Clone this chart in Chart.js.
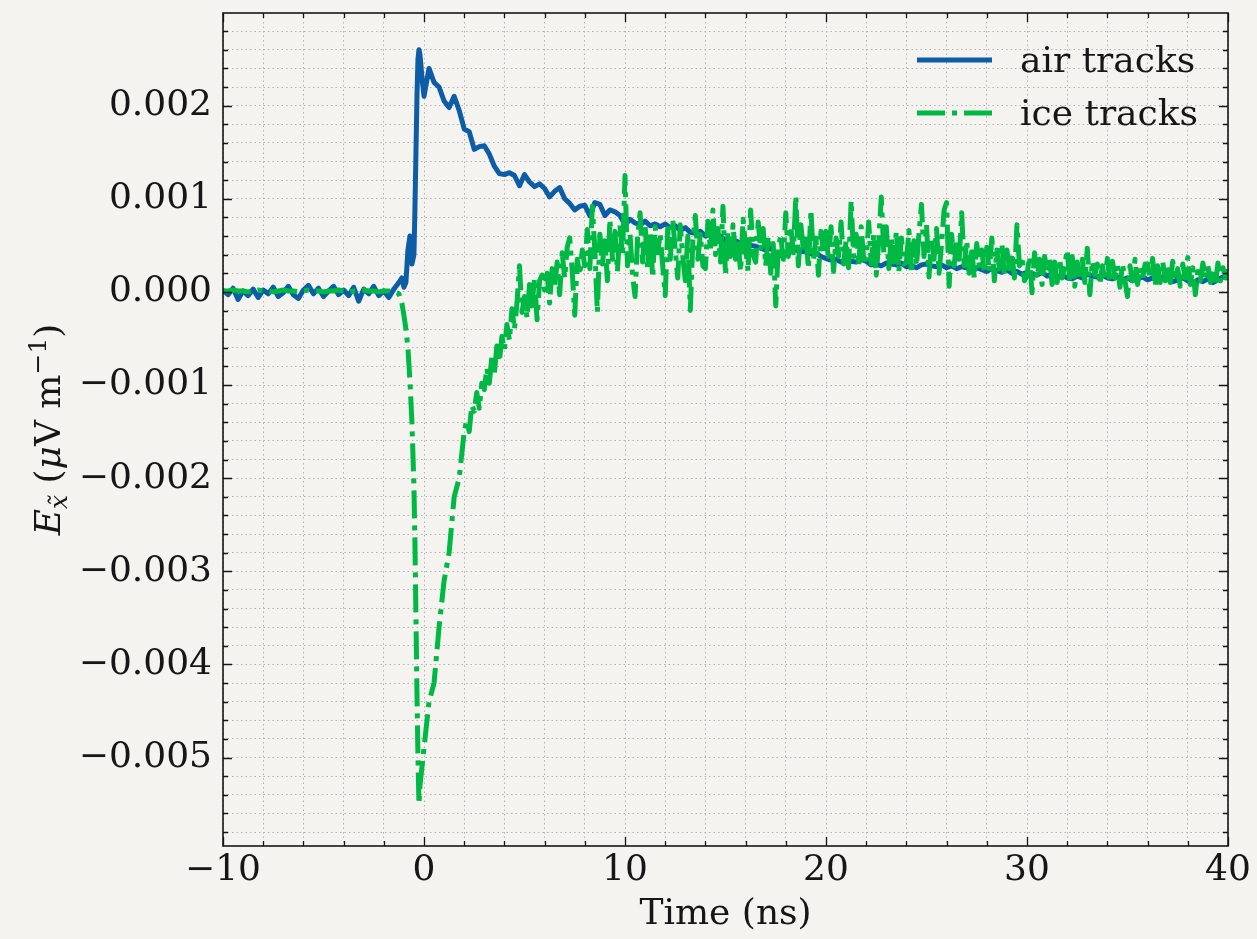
<!DOCTYPE html>
<html>
<head>
<meta charset="utf-8">
<script src="https://cdn.jsdelivr.net/npm/chart.js@4.4.1/dist/chart.umd.min.js"></script>
<style>
  html, body { margin: 0; padding: 0; background: #f4f3ef; }
  #wrap { width: 1257px; height: 939px; }
</style>
</head>
<body>
<div id="wrap"><canvas id="efield" width="1257" height="939"></canvas></div>
<script>
// time axis for the air tracks (ns)
const airTime = [
  -10, -9.75, -9.5, -9.25, -9, -8.75, -8.5, -8.25,
  -8, -7.75, -7.5, -7.25, -7, -6.75, -6.5, -6.25,
  -6, -5.75, -5.5, -5.25, -5, -4.75, -4.5, -4.25,
  -4, -3.75, -3.5, -3.25, -3, -2.75, -2.5, -2.25,
  -2, -1.75, -1.5, -1.25,
  -1.1, -1.0, -0.9, -0.8, -0.7, -0.6, -0.5, -0.45, -0.4, -0.35, -0.3, -0.25, -0.2, -0.1,
  0, 0.25, 0.5, 0.75, 1, 1.25, 1.5, 1.75,
  2, 2.25, 2.5, 2.75, 3, 3.25, 3.5, 3.75,
  4, 4.25, 4.5, 4.75, 5, 5.25, 5.5, 5.75,
  6, 6.25, 6.5, 6.75, 7, 7.25, 7.5, 7.75,
  8, 8.25, 8.5, 8.75, 9, 9.25, 9.5, 9.75,
  10, 10.25, 10.5, 10.75, 11, 11.25, 11.5, 11.75,
  12, 12.25, 12.5, 12.75, 13, 13.25, 13.5, 13.75,
  14, 14.25, 14.5, 14.75, 15, 15.25, 15.5, 15.75,
  16, 16.25, 16.5, 16.75, 17, 17.25, 17.5, 17.75,
  18, 18.25, 18.5, 18.75, 19, 19.25, 19.5, 19.75,
  20, 20.25, 20.5, 20.75, 21, 21.25, 21.5, 21.75,
  22, 22.25, 22.5, 22.75, 23, 23.25, 23.5, 23.75,
  24, 24.25, 24.5, 24.75, 25, 25.25, 25.5, 25.75,
  26, 26.25, 26.5, 26.75, 27, 27.25, 27.5, 27.75,
  28, 28.25, 28.5, 28.75, 29, 29.25, 29.5, 29.75,
  30, 30.25, 30.5, 30.75, 31, 31.25, 31.5, 31.75,
  32, 32.25, 32.5, 32.75, 33, 33.25, 33.5, 33.75,
  34, 34.25, 34.5, 34.75, 35, 35.25, 35.5, 35.75,
  36, 36.25, 36.5, 36.75, 37, 37.25, 37.5, 37.75,
  38, 38.25, 38.5, 38.75, 39, 39.25, 39.5, 39.75,
  40
];

// E field, air tracks (uV/m)
const airTracks = [
  0.00002, -0.00003, 0.00004, -0.00008, 0.00001, -0.00004, 0.00003, -0.00006,
  0.00002, -0.00002, 0.00005, -0.00005, -0.00001, 0.00006, -0.00003, -0.00007,
  0.00002, 0.00007, -0.00002, 0.00004, -0.00005, 0.00001, 0.00006, -0.00003,
  0.00002, -0.00004, 0.00005, -0.0001, 0.00003, -0.00002, 0.00006, -0.00004,
  0.00001, -0.00006, 0.00003, 0.0001,
  0.00015, 0.00005, 0.0001, 0.00045, 0.0006, 0.0003, 0.0004, 0.0009, 0.0015, 0.0021, 0.0025, 0.0026, 0.00255, 0.0023,
  0.0021, 0.0024, 0.00225, 0.0022, 0.00205, 0.00198, 0.0021, 0.00195,
  0.00175, 0.00172, 0.00153, 0.00156, 0.00157, 0.00148, 0.00135, 0.00127,
  0.00126, 0.00128, 0.00125, 0.00114, 0.00126, 0.00118, 0.00113, 0.00116,
  0.00111, 0.00102, 0.00108, 0.00112, 0.001, 0.00095, 0.00088, 0.00092,
  0.00093, 0.00082, 0.00096, 0.00094, 0.00082, 0.00088, 0.00086, 0.00082,
  0.00072, 0.00078, 0.00074, 0.00072, 0.00076, 0.00071, 0.00073, 0.0007,
  0.00073, 0.00069, 0.00071, 0.00066, 0.00069, 0.00064, 0.00063, 0.00065,
  0.0006, 0.00062, 0.00058, 0.0006, 0.00055, 0.00053, 0.00055, 0.00052,
  0.00054, 0.0005, 0.00049, 0.00047, 0.00045, 0.00047, 0.00042, 0.00039,
  0.00041, 0.00044, 0.00045, 0.00043, 0.00044, 0.00041, 0.00042, 0.00038,
  0.00036, 0.00034, 0.00035, 0.00032, 0.00031, 0.00033, 0.00032, 0.00035,
  0.00033, 0.00029, 0.0003, 0.00028, 0.00031, 0.0003, 0.00029, 0.00031,
  0.00027, 0.00028, 0.00026, 0.00029, 0.0003, 0.00028, 0.00027, 0.00029,
  0.00026, 0.00028, 0.00025, 0.00027, 0.00026, 0.00023, 0.00026, 0.00024,
  0.00022, 0.00025, 0.00023, 0.00021, 0.00024, 0.0002, 0.00022, 0.00019,
  0.00021, 0.0002, 0.00018, 0.00021, 0.00017, 0.00019, 0.00016, 0.00018,
  0.00015, 0.00014, 0.00017, 0.00015, 0.00019, 0.00017, 0.00016, 0.00018,
  0.00015, 0.00014, 0.00016, 0.00013, 0.00015, 0.00012, 0.00014, 0.00016,
  0.00013, 0.00015, 0.00012, 0.00016, 0.00014, 0.00011, 0.00013, 0.00015,
  0.00012, 0.00009, 0.00013, 0.00011, 0.00014, 0.0001, 0.00013, 0.00016,
  0.00015
];

// time axis for the ice tracks (ns), denser after 2 ns
const iceTime = [
  -10, -9.75, -9.5, -9.25, -9, -8.75, -8.5, -8.25,
  -8, -7.75, -7.5, -7.25, -7, -6.75, -6.5, -6.25,
  -6, -5.75, -5.5, -5.25, -5, -4.75, -4.5, -4.25,
  -4, -3.75, -3.5, -3.25, -3, -2.75, -2.5, -2.25,
  -2, -1.75, -1.5, -1.25,
  -1.1, -1.0, -0.9, -0.8, -0.7, -0.6, -0.5, -0.45, -0.4, -0.35, -0.3, -0.25, -0.2, -0.1,
  0, 0.25, 0.5, 0.75, 1, 1.25, 1.5, 1.75,
  2, 2.125, 2.25, 2.375, 2.5, 2.625, 2.75, 2.875,
  3, 3.125, 3.25, 3.375, 3.5, 3.625, 3.75, 3.875,
  4, 4.125, 4.25, 4.375, 4.5, 4.625, 4.75, 4.875,
  5, 5.125, 5.25, 5.375, 5.5, 5.625, 5.75, 5.875,
  6, 6.125, 6.25, 6.375, 6.5, 6.625, 6.75, 6.875,
  7, 7.125, 7.25, 7.375, 7.5, 7.625, 7.75, 7.875,
  8, 8.125, 8.25, 8.375, 8.5, 8.625, 8.75, 8.875,
  9, 9.125, 9.25, 9.375, 9.5, 9.625, 9.75, 9.875,
  10, 10.125, 10.25, 10.375, 10.5, 10.625, 10.75, 10.875,
  11, 11.125, 11.25, 11.375, 11.5, 11.625, 11.75, 11.875,
  12, 12.125, 12.25, 12.375, 12.5, 12.625, 12.75, 12.875,
  13, 13.125, 13.25, 13.375, 13.5, 13.625, 13.75, 13.875,
  14, 14.125, 14.25, 14.375, 14.5, 14.625, 14.75, 14.875,
  15, 15.125, 15.25, 15.375, 15.5, 15.625, 15.75, 15.875,
  16, 16.125, 16.25, 16.375, 16.5, 16.625, 16.75, 16.875,
  17, 17.125, 17.25, 17.375, 17.5, 17.625, 17.75, 17.875,
  18, 18.125, 18.25, 18.375, 18.5, 18.625, 18.75, 18.875,
  19, 19.125, 19.25, 19.375, 19.5, 19.625, 19.75, 19.875,
  20, 20.125, 20.25, 20.375, 20.5, 20.625, 20.75, 20.875,
  21, 21.125, 21.25, 21.375, 21.5, 21.625, 21.75, 21.875,
  22, 22.125, 22.25, 22.375, 22.5, 22.625, 22.75, 22.875,
  23, 23.125, 23.25, 23.375, 23.5, 23.625, 23.75, 23.875,
  24, 24.125, 24.25, 24.375, 24.5, 24.625, 24.75, 24.875,
  25, 25.125, 25.25, 25.375, 25.5, 25.625, 25.75, 25.875,
  26, 26.125, 26.25, 26.375, 26.5, 26.625, 26.75, 26.875,
  27, 27.125, 27.25, 27.375, 27.5, 27.625, 27.75, 27.875,
  28, 28.125, 28.25, 28.375, 28.5, 28.625, 28.75, 28.875,
  29, 29.125, 29.25, 29.375, 29.5, 29.625, 29.75, 29.875,
  30, 30.125, 30.25, 30.375, 30.5, 30.625, 30.75, 30.875,
  31, 31.125, 31.25, 31.375, 31.5, 31.625, 31.75, 31.875,
  32, 32.125, 32.25, 32.375, 32.5, 32.625, 32.75, 32.875,
  33, 33.125, 33.25, 33.375, 33.5, 33.625, 33.75, 33.875,
  34, 34.125, 34.25, 34.375, 34.5, 34.625, 34.75, 34.875,
  35, 35.125, 35.25, 35.375, 35.5, 35.625, 35.75, 35.875,
  36, 36.125, 36.25, 36.375, 36.5, 36.625, 36.75, 36.875,
  37, 37.125, 37.25, 37.375, 37.5, 37.625, 37.75, 37.875,
  38, 38.125, 38.25, 38.375, 38.5, 38.625, 38.75, 38.875,
  39, 39.125, 39.25, 39.375, 39.5, 39.625, 39.75, 39.875,
  40
];

// E field, ice tracks (uV/m)
const iceTracks = [
  0.00001, 0.00001, 0.00002, 0.00001, 0.00001, 0.0, 0.00001, 0.00002,
  0.00001, 0.00001, 0.0, 0.00001, 0.00002, 0.00001, 0.00001, 0.0,
  0.00001, 0.00002, 0.00001, 0.00001, 0.0, 0.00001, 0.00001, 0.00002,
  0.00001, 0.0, 0.00001, 0.00001, 0.00002, 0.00001, 0.00001, 0.0,
  0.00001, 0.00001, 0.0, -0.00002,
  -0.00012, -0.00025, -0.0004, -0.0006, -0.00095, -0.0014, -0.0021, -0.0027, -0.0035, -0.0043, -0.005, -0.0055, -0.0053, -0.0051,
  -0.0049, -0.0044, -0.0042, -0.0036, -0.0031, -0.0028, -0.0022, -0.002,
  -0.0015, -0.00138, -0.0015, -0.00122, -0.00128, -0.00108, -0.00125, -0.00098,
  -0.00105, -0.00082, -0.00098, -0.0007, -0.00088, -0.00058, -0.00075, -0.00048,
  -0.00062, -0.00035, -0.00052, -0.00018, -0.0004, -0.00012, 0.00028, -0.00022,
  -0.00005, -0.00028, 0.00008, -0.00015, 0.00015, -0.0003, 0.00012, 0.00018,
  0.00002, 0.0002, -0.00012, 0.00025, 0.00005, 0.00032, -0.00003, 0.00042,
  0.00015, 0.00048, 0.00058, 0.00022, -0.00025, 0.00035, 0.00018, 0.00045,
  0.00028, 0.00067, 0.00025, 0.00092, 0.00045, -0.00022, 0.00062, 0.0003,
  0.00055, 0.00012, 0.00078, 0.00035, 0.00065, 0.00022, 0.00072, 0.00038,
  0.00125, 0.00028, 0.00062, 0.00018, -0.00005, 0.00058, 0.00085, 0.00032,
  0.00072, 0.00025, 0.00065, 0.00015, 0.0007, 0.00042, 0.00062, 0.00028,
  -0.00004, 0.00068, 0.00035, 0.00078, 0.00045, 0.00015, 0.00072, 0.00038,
  0.00012, 0.0006, -0.0002, 0.00055, 0.00082, 0.00035, 0.00062, 0.00028,
  0.00025, 0.00076, 0.00045, 0.00088, 0.0004, 0.00068, 0.00032, 0.00092,
  0.00018, 0.00065, 0.00038, 0.00072, 0.00035, 0.00055, 0.00022, 0.00078,
  0.00048, 0.00022, 0.00088, 0.0004, 0.00032, 0.00075, 0.00045, 0.00068,
  0.00028, 0.0006, 0.0002, 0.00052, -0.00015, 0.00048, 0.0006, 0.00035,
  0.00085, 0.00038, 0.0007, 0.00042, 0.00103, 0.00028, 0.00072, 0.00045,
  0.00062, 0.00025, 0.00088, 0.00035, 0.00058, 0.00018, 0.00065, 0.00042,
  0.00065, 0.00034, 0.0007, 0.00022, 0.00058, 0.00038, 0.00075, 0.0003,
  0.00055, 0.00026, 0.00098, 0.00038, 0.00062, 0.00028, 0.0007, 0.00035,
  0.00035, 0.00075, 0.0003, 0.00062, 0.00018, 0.00055, 0.00102, 0.00042,
  0.0007, 0.00025, 0.00058, 0.00032, 0.00065, 0.00022, 0.00058, 0.0003,
  0.00032, 0.00066, 0.0002, 0.00055, 0.00028, 0.00062, 0.00094, 0.00038,
  0.00072, 0.00016, 0.00058, 0.00035, 0.00068, 0.0002, 0.00052, 0.00088,
  0.00096, 0.00006, 0.00062, 0.00028, 0.00055, 0.00035, 0.00085, 0.00028,
  0.00055, 0.0002, 0.00048, 0.00015, 0.00052, 0.00028, 0.00045, 0.0002,
  0.00048, 0.00022, 0.00058, 0.00012, 0.00045, 0.00025, 0.00052, 0.00018,
  0.00045, 0.00025, 0.00042, 0.00015, 0.00072, 0.00028, 0.00038, 0.00012,
  0.00018, 0.00038, -0.00001, 0.00042, 0.00015, 0.00035, 0.00008, 0.00038,
  0.00022, 0.00035, 0.00008, 0.00032, 0.0001, 0.00035, 0.00015, 0.00028,
  0.00045, 0.00012, 0.00038, 0.00006, 0.00032, 0.00015, 0.00035, 0.0001,
  0.00047, -0.00003, 0.00033, 0.00018, 0.0003, 0.00008, 0.00028, 0.00012,
  0.00036, 0.0001, 0.00033, 0.00015, 0.00028, 0.00005, 0.0003, 0.00012,
  -0.00005, 0.00028, 0.00012, 0.00035, 0.00008, 0.00026, 0.00014, 0.0003,
  0.0003, 0.00014, 0.00036, 0.00006, 0.00028, 0.0001, 0.00033, 0.00012,
  0.00028, 0.0001, 0.00033, 0.00012, 0.00025, 0.00006, 0.0003, 0.00015,
  0.00037, 0.00008, 0.00026, -0.00003, 0.00022, 0.00012, 0.00031, 0.00015,
  0.00028, 0.0001, 0.00024, 0.00008, 0.00031, 0.00012, 0.00026, 0.00015,
  0.00024
];

const seriesNames = ['air tracks', 'ice tracks'];
const seriesColors = ['#0C5DA5', '#00B945'];
const xTitle = 'Time (ns)';
const xMajorStep = 10, xMinorStep = 2;
const yMajorStep = 0.001, yMinorStep = 0.0002;

const FONT = "'DejaVu Serif', 'Liberation Serif', serif";
const FS = 36;
const BG = '#f4f3ef';
const INK = '#161616';
const LW = 5;
const dashDot = [28, 7, 5, 7];

function onStep(v, step) {
    const r = v / step;
    return Math.abs(r - Math.round(r)) < 1e-6;
}
function minus(s) { return s.replace('-', '\u2212'); }

// 背景・枠・内向き目盛り・軸タイトル・凡例
const decorPlugin = {
    id: 'decor',
    beforeDraw(chart) {
        const ctx = chart.ctx;
        ctx.save();
        ctx.fillStyle = BG;
        ctx.fillRect(0, 0, chart.width, chart.height);
        ctx.restore();
    },
    afterDraw(chart) {
        const ctx = chart.ctx;
        const a = chart.chartArea;
        const xs = chart.scales.x, ys = chart.scales.y;
        ctx.save();

        // inward ticks on all four sides
        ctx.strokeStyle = INK;
        ctx.lineWidth = 1.3;
        ctx.beginPath();
        xs.ticks.forEach(t => {
            const px = Math.round(xs.getPixelForValue(t.value)) + 0.5;
            const len = onStep(t.value, xMajorStep) ? 9 : 5;
            ctx.moveTo(px, a.bottom); ctx.lineTo(px, a.bottom - len);
            ctx.moveTo(px, a.top); ctx.lineTo(px, a.top + len);
        });
        ys.ticks.forEach(t => {
            const py = Math.round(ys.getPixelForValue(t.value)) + 0.5;
            const len = onStep(t.value, yMajorStep) ? 9 : 5;
            ctx.moveTo(a.left, py); ctx.lineTo(a.left + len, py);
            ctx.moveTo(a.right, py); ctx.lineTo(a.right - len, py);
        });
        ctx.stroke();

        // frame
        ctx.lineWidth = 1.6;
        ctx.strokeRect(a.left, a.top, a.right - a.left, a.bottom - a.top);

        // x title
        ctx.fillStyle = INK;
        ctx.font = `${FS}px ${FONT}`;
        ctx.textAlign = 'center';
        ctx.textBaseline = 'alphabetic';
        ctx.fillText(xTitle, (a.left + a.right) / 2, 924);

        // y title: E_x~ (uV m^-1)
        const small = 25;
        const parts = [
            { t: 'E', f: `italic ${FS}px ${FONT}`, dy: 0 },
            { t: 'x\u0303', f: `italic ${small}px ${FONT}`, dy: 7 },
            { t: ' (', f: `${FS}px ${FONT}`, dy: 0 },
            { t: '\u03bc', f: `italic ${FS}px ${FONT}`, dy: 0 },
            { t: 'V m', f: `${FS}px ${FONT}`, dy: 0 },
            { t: '\u22121', f: `${small}px ${FONT}`, dy: -14 },
            { t: ')', f: `${FS}px ${FONT}`, dy: 0 }
        ];
        let total = 0;
        parts.forEach(p => { ctx.font = p.f; p.w = ctx.measureText(p.t).width; total += p.w; });
        ctx.translate(60, (a.top + a.bottom) / 2);
        ctx.rotate(-Math.PI / 2);
        ctx.textAlign = 'left';
        let cx = -total / 2;
        parts.forEach(p => { ctx.font = p.f; ctx.fillText(p.t, cx, p.dy); cx += p.w; });
        ctx.setTransform(1, 0, 0, 1, 0, 0);

        // legend
        const rows = [60, 113];
        rows.forEach((ly, i) => {
            ctx.strokeStyle = seriesColors[i];
            ctx.lineWidth = LW;
            ctx.setLineDash(i === 1 ? dashDot : []);
            ctx.beginPath();
            ctx.moveTo(917, ly); ctx.lineTo(992, ly);
            ctx.stroke();
            ctx.setLineDash([]);
            ctx.fillStyle = INK;
            ctx.font = `${FS}px ${FONT}`;
            ctx.textAlign = 'left';
            ctx.fillText(seriesNames[i], 1020, ly + 12);
        });
        ctx.restore();
    }
};

const toPoints = (ts, vals) => ts.map((t, i) => ({ x: t, y: vals[i] }));

new Chart(document.getElementById('efield').getContext('2d'), {
    type: 'line',
    data: {
        datasets: [
            { label: seriesNames[0], data: toPoints(airTime, airTracks), borderColor: seriesColors[0], borderWidth: LW,
              pointRadius: 0, tension: 0, borderJoinStyle: 'round', order: 1 },
            { label: seriesNames[1], data: toPoints(iceTime, iceTracks), borderColor: seriesColors[1], borderWidth: LW,
              borderDash: dashDot, pointRadius: 0, tension: 0, borderJoinStyle: 'round', order: 0 }
        ]
    },
    options: {
        responsive: false,
        animation: false,
        devicePixelRatio: 1,
        events: [],
        layout: { padding: { left: 0, top: 13, right: 29, bottom: 0 } },
        plugins: { legend: { display: false }, tooltip: { enabled: false } },
        scales: {
            x: {
                type: 'linear', min: -10, max: 40,
                afterFit: s => { s.height = 93; s.paddingLeft = 0; s.paddingRight = 0; },
                grid: { color: '#b3b3b3', lineWidth: 1, drawTicks: false },
                border: { display: false, dash: [1.5, 3] },
                ticks: {
                    stepSize: xMinorStep, autoSkip: false, maxTicksLimit: 1000, maxRotation: 0,
                    includeBounds: false, padding: 3, color: INK, font: { family: FONT, size: FS },
                    callback: v => onStep(v, xMajorStep) ? minus(String(Math.round(v))) : ''
                }
            },
            y: {
                type: 'linear', min: -0.00595, max: 0.002995,
                afterFit: s => { s.width = 223; s.paddingTop = 0; s.paddingBottom = 0; },
                grid: { color: '#b3b3b3', lineWidth: 1, drawTicks: false },
                border: { display: false, dash: [1.5, 3] },
                ticks: {
                    stepSize: yMinorStep, autoSkip: false, maxTicksLimit: 1000,
                    includeBounds: false, padding: 11, color: INK, font: { family: FONT, size: FS },
                    callback: v => {
                        if (!onStep(v, yMajorStep)) return '';
                        if (Math.abs(v) < 1e-9) return '0.000';
                        return minus(v.toFixed(3));
                    }
                }
            }
        }
    },
    plugins: [decorPlugin]
});
</script>
</body>
</html>
